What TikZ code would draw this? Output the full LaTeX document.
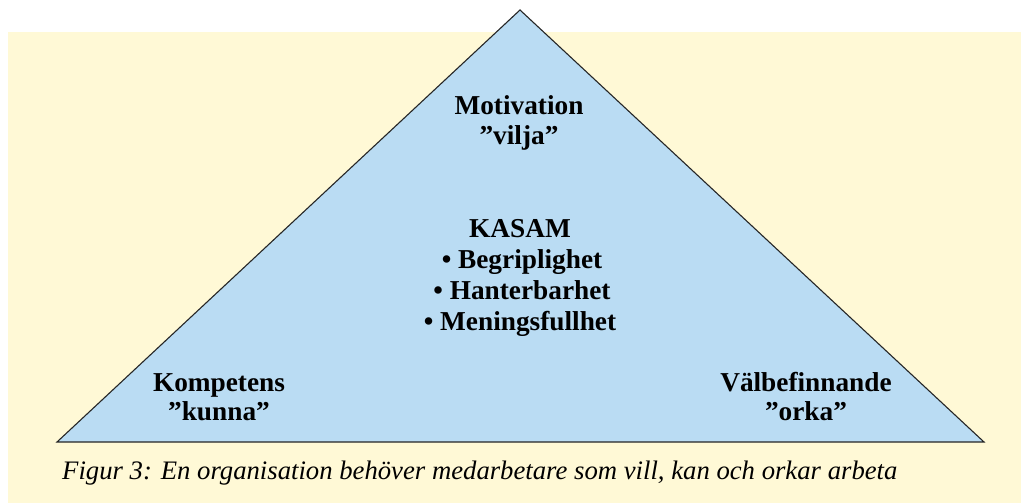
\documentclass[tikz,border=0pt]{standalone}
\usepackage{fontspec}
\setmainfont{Liberation Serif}
\definecolor{bgyellow}{RGB}{255,249,214}
\definecolor{triblue}{RGB}{186,220,243}
\begin{document}
\begin{tikzpicture}[x=1pt,y=-1pt,
  lbl/.style={font=\fontsize{27.3}{30}\selectfont\bfseries,align=center,inner sep=0pt,anchor=base},
  figcap/.style={font=\fontsize{26.7}{30}\selectfont\itshape,inner sep=0pt,anchor=base west}]
\useasboundingbox (0,0) rectangle (1021,503);
\fill[white] (0,0) rectangle (1021,503);
\fill[bgyellow] (8,32) rectangle (1021,503);
\coordinate (apex) at (520,10);
\coordinate (bl) at (57,442);
\coordinate (br) at (984,442);
\draw[fill=triblue,draw=black!85,line width=1.1pt,line join=miter] (apex) -- (br) -- (bl) -- cycle;
\node[lbl] (mot) at (519,114) {Motivation};
\node[lbl] (vil) at (519,144) {”vilja”};
\node[lbl] (kas) at (520,237) {KASAM};
\node[lbl] (beg) at (522,268) {• Begriplighet};
\node[lbl] (han) at (522,299) {• Hanterbarhet};
\node[lbl] (men) at (520,330) {• Meningsfullhet};
\node[lbl] (kom) at (219,391) {Kompetens};
\node[lbl] (kun) at (219,420) {”kunna”};
\node[lbl] (val) at (806,391) {Välbefinnande};
\node[lbl] (ork) at (806,420) {”orka”};
\node[figcap] (fig) at (62,479) {Figur 3: En organisation behöver medarbetare som vill, kan och orkar arbeta};
\end{tikzpicture}
\end{document}
